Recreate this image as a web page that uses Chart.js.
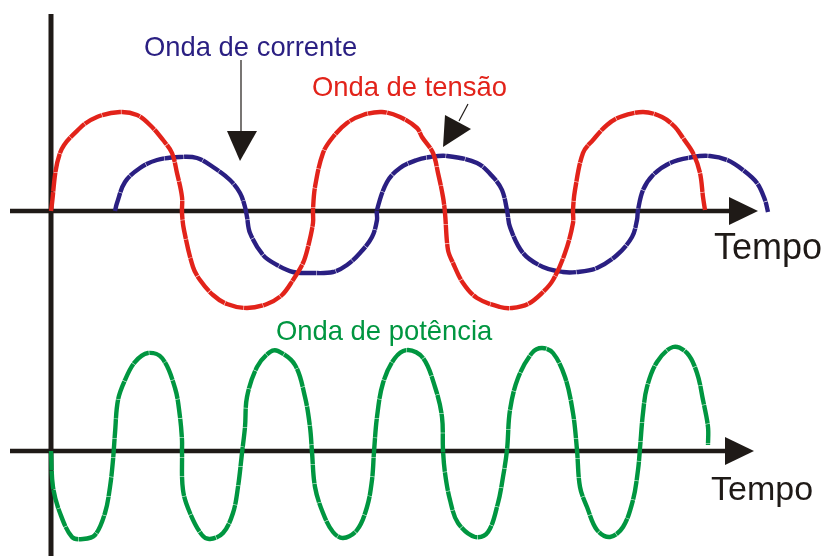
<!DOCTYPE html>
<html>
<head>
<meta charset="utf-8">
<script src="https://cdn.jsdelivr.net/npm/chart.js@4/dist/chart.umd.min.js"></script>
<style>
  html, body { margin: 0; padding: 0; background: #fff; }
  #wrap { position: relative; width: 828px; height: 556px; overflow: hidden; }
  #wrap canvas { position: absolute; left: 0; top: 0; }
  .lbl { position: absolute; font-family: "Liberation Sans", Arial, sans-serif; line-height: 1; white-space: nowrap; }
</style>
</head>
<body>
<div id="wrap">
  <canvas id="chart" width="828" height="556"></canvas>
  <div class="lbl" style="left:144px;top:33px;font-size:27.4px;color:#2a1f82">Onda de corrente</div>
  <div class="lbl" style="left:312px;top:73px;font-size:27.4px;color:#e2231a">Onda de tensão</div>
  <div class="lbl" style="left:276px;top:317px;font-size:27.4px;color:#009640">Onda de potência</div>
  <div class="lbl" style="left:714px;top:229px;font-size:36px;color:#1f1a17">Tempo</div>
  <div class="lbl" style="left:711px;top:471px;font-size:34px;color:#1f1a17">Tempo</div>
</div>
<script>
// Waves: t = time from the origin, a = amplitude above its own axis.

var tensaoT = [0, 9, 29, 46, 69, 86, 99, 112, 121, 126, 131, 131, 133, 142, 149, 162, 176, 196, 216, 231, 242, 252, 257, 262, 262, 264, 272, 282, 296, 312, 331, 349, 366, 371, 382, 387, 392, 394, 397, 402, 412, 426, 449, 461, 477, 491, 502, 514, 522, 522, 524, 532, 542, 556, 569, 592, 611, 624, 632, 642, 649, 652, 654];
var tensaoA = [0, 58, 83, 94, 99, 96, 86, 71, 58, 38, 14, -2, -19, -56, -69, -84, -93, -97, -93, -84, -69, -52, -36, -12, 1, 24, 58, 74, 88, 96, 99, 94, 83, 74, 58, 38, 14, -2, -39, -52, -72, -87, -96, -97, -93, -82, -69, -42, -12, 1, 21, 58, 71, 86, 94, 99, 94, 84, 73, 58, 38, 14, 1];

var correnteT = [64, 66, 74, 89, 106, 129, 146, 162, 179, 189, 194, 196, 199, 212, 226, 242, 262, 282, 296, 309, 321, 326, 326, 336, 349, 366, 379, 396, 426, 442, 451, 456, 459, 472, 492, 512, 526, 546, 566, 581, 586, 587, 592, 602, 619, 642, 659, 676, 692, 706, 714, 717];
var correnteA = [0, 8, 29, 43, 51, 54, 53, 44, 31, 18, 4, -6, -22, -44, -54, -61, -62, -61, -54, -42, -26, -9, 1, 29, 43, 51, 54, 55, 48, 34, 21, 1, -16, -42, -56, -61, -61, -57, -44, -26, -9, 1, 21, 36, 48, 54, 55, 51, 41, 28, 11, -1];

var potenciaT = [0, 2, 9, 21, 32, 44, 54, 59, 62, 64, 67, 74, 84, 97, 111, 124, 129, 131, 131, 132, 139, 151, 159, 172, 182, 187, 191, 194, 196, 206, 219, 227, 244, 254, 259, 261, 264, 272, 282, 292, 306, 316, 321, 323, 326, 332, 344, 357, 372, 384, 391, 392, 394, 399, 407, 424, 437, 447, 452, 456, 459, 467, 481, 491, 502, 514, 522, 526, 529, 536, 546, 559, 572, 582, 587, 589, 592, 596, 606, 622, 636, 646, 652, 657, 657];
var potenciaA = [0, -36, -62, -86, -88, -84, -62, -36, -9, 18, 51, 71, 89, 98, 93, 63, 34, 11, -1, -39, -62, -84, -88, -82, -62, -36, -2, 24, 54, 84, 99, 100, 86, 54, 24, -1, -36, -62, -81, -87, -79, -56, -29, -1, 34, 68, 93, 101, 93, 64, 34, 1, -22, -49, -72, -86, -81, -52, -26, 1, 41, 73, 98, 103, 98, 74, 38, 1, -36, -56, -79, -86, -76, -49, -19, 3, 38, 64, 89, 104, 98, 78, 51, 24, 6];

// time axes run from -41 to the arrow tip; the vertical axis from the origin up to 197
var AXIS_START = -41;
var AXIS_END_TOP = 707;
var AXIS_END_BOTTOM = 703;
var VAXIS_TOP = 197;

// pointer arrows next to the labels (in upper-panel units)
var POINTERS = [
  { line: [[190, 151], [190, 79]], head: [[176, 80], [206, 80], [189, 50]] },
  { line: [[417, 107], [408, 90]], head: [[394, 96], [420, 82], [392, 64]] }
];

var RED = "#e2231a", NAVY = "#2a1f82", GREEN = "#009640", INK = "#1f1a17";

function pts(ts, as) {
  return ts.map(function(t, i) { return { x: t, y: as[i] }; });
}

function wave(label, ts, as, color, axis) {
  return {
    label: label,
    data: pts(ts, as),
    yAxisID: axis,
    showLine: true,
    borderColor: color,
    borderWidth: 4.4,
    borderDash: [19, 0.5],
    borderCapStyle: "butt",
    borderJoinStyle: "round",
    tension: 0.35,
    pointRadius: 0,
    fill: false,
    clip: false
  };
}

var axesPlugin = {
  id: "axes",
  beforeDatasetsDraw: function(chart) {
    var ctx = chart.ctx, x = chart.scales.x, yT = chart.scales.y, yB = chart.scales.y2;
    ctx.save();
    ctx.strokeStyle = INK;
    ctx.fillStyle = INK;
    ctx.lineWidth = 4.5;

    [[yT, AXIS_END_TOP], [yB, AXIS_END_BOTTOM]].forEach(function(p) {
      var ys = p[0], y0 = ys.getPixelForValue(0);
      var x0 = x.getPixelForValue(AXIS_START), tip = x.getPixelForValue(p[1]);
      ctx.beginPath();
      ctx.moveTo(x0, y0);
      ctx.lineTo(tip - 26, y0);
      ctx.stroke();
      ctx.beginPath();
      ctx.moveTo(tip, y0);
      ctx.lineTo(tip - 29, y0 - 14);
      ctx.lineTo(tip - 29, y0 + 14);
      ctx.closePath();
      ctx.fill();
    });

    ctx.lineWidth = 5;
    ctx.beginPath();
    ctx.moveTo(x.getPixelForValue(0), yT.getPixelForValue(VAXIS_TOP));
    ctx.lineTo(x.getPixelForValue(0), chart.height);
    ctx.stroke();

    ctx.lineWidth = 1.2;
    POINTERS.forEach(function(p) {
      ctx.beginPath();
      ctx.moveTo(x.getPixelForValue(p.line[0][0]), yT.getPixelForValue(p.line[0][1]));
      ctx.lineTo(x.getPixelForValue(p.line[1][0]), yT.getPixelForValue(p.line[1][1]));
      ctx.stroke();
      ctx.beginPath();
      p.head.forEach(function(v, i) {
        var px = x.getPixelForValue(v[0]), py = yT.getPixelForValue(v[1]);
        if (i === 0) ctx.moveTo(px, py); else ctx.lineTo(px, py);
      });
      ctx.closePath();
      ctx.fill();
    });
    ctx.restore();
  }
};

new Chart(document.getElementById("chart"), {
  type: "scatter",
  data: {
    datasets: [
      wave("Onda de tensão", tensaoT, tensaoA, RED, "y"),
      wave("Onda de corrente", correnteT, correnteA, NAVY, "y"),
      wave("Onda de potência", potenciaT, potenciaA, GREEN, "y2")
    ]
  },
  options: {
    responsive: false,
    animation: false,
    devicePixelRatio: 1,
    layout: { padding: 0 },
    plugins: { legend: { display: false }, tooltip: { enabled: false } },
    scales: {
      x:  { type: "linear", min: -51, max: 777, display: false },
      y:  { type: "linear", min: -345, max: 211, display: false },
      y2: { type: "linear", min: -105, max: 451, display: false }
    }
  },
  plugins: [axesPlugin]
});
</script>
</body>
</html>
